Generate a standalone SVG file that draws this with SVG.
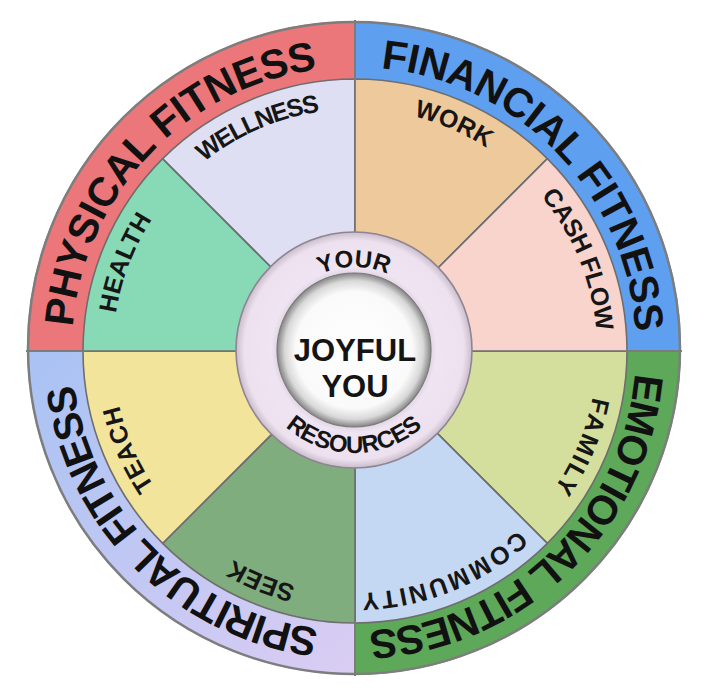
<svg xmlns="http://www.w3.org/2000/svg" xmlns:xlink="http://www.w3.org/1999/xlink" width="724" height="690" viewBox="0 0 724 690">
<defs>
<style>
.outer{font-family:"Liberation Sans","DejaVu Sans",sans-serif;font-weight:700;font-size:41px;fill:#111;}
.inner{font-family:"Liberation Sans","DejaVu Sans",sans-serif;font-weight:700;font-size:25px;fill:#161616;}
.hub{font-family:"Liberation Sans","DejaVu Sans",sans-serif;font-weight:700;fill:#141414;}
.wedge{stroke:#6e6e6e;stroke-width:1.6;stroke-linejoin:round;}
.div{stroke:#7c7c7c;stroke-width:2;}
</style>
<clipPath id="outerClip"><circle cx="354" cy="348" r="327"/></clipPath>
<linearGradient id="spirit" x1="0" y1="0" x2="1" y2="1">
<stop offset="0" stop-color="#a6c2f3"/>
<stop offset="1" stop-color="#dccdf3"/>
</linearGradient>
<radialGradient id="hubRing" cx="0.5" cy="0.5" r="0.5">
<stop offset="0.62" stop-color="#d9ccdb"/>
<stop offset="0.7" stop-color="#efe4f1"/>
<stop offset="0.93" stop-color="#ede1ef"/>
<stop offset="1" stop-color="#c9bccb"/>
</radialGradient>
<radialGradient id="hubCore" cx="0.5" cy="0.5" r="0.5">
<stop offset="0" stop-color="#ffffff"/>
<stop offset="0.76" stop-color="#fafafa"/>
<stop offset="0.9" stop-color="#d8d8d8"/>
<stop offset="1" stop-color="#858585"/>
</radialGradient>
<path id="outerArc" d="M 636 349 A 282 282 0 1 1 72 349 A 282 282 0 1 1 636 349"/>
<path id="innerArc" d="M 597 351 A 242 242 0 1 1 113 351 A 242 242 0 1 1 597 351"/>
<path id="yourArc" d="M 437 350 A 83 83 0 1 1 271 350 A 83 83 0 1 1 437 350"/>
<path id="resArc" d="M 251 350 A 103 103 0 0 0 457 350"/>
</defs>
<rect width="724" height="690" fill="#ffffff"/>

<g id="outer-ring">
<g clip-path="url(#outerClip)">
<g id="physical-fitness"><rect x="0" y="0" width="355" height="351" fill="#ec777a"/></g>
<g id="financial-fitness"><rect x="355" y="0" width="369" height="351" fill="#5f9ff0"/></g>
<g id="emotional-fitness"><rect x="355" y="351" width="369" height="339" fill="#5ea85a"/></g>
<g id="spiritual-fitness"><rect x="0" y="351" width="355" height="339" fill="url(#spirit)"/></g>
</g>
<circle cx="354" cy="348" r="326" fill="none" stroke="#7d7d7d" stroke-width="2.5"/>
</g>

<g id="wedges">
<g id="family"><path class="wedge" fill="#d4df9e" d="M355,351 L627,351 A272,272 0 0 1 547.33,543.33 Z"/></g>
<g id="community"><path class="wedge" fill="#c4d8f3" d="M355,351 L547.33,543.33 A272,272 0 0 1 355,623 Z"/></g>
<g id="seek"><path class="wedge" fill="#80ad7d" d="M355,351 L355,623 A272,272 0 0 1 162.67,543.33 Z"/></g>
<g id="teach"><path class="wedge" fill="#f3e49b" d="M355,351 L162.67,543.33 A272,272 0 0 1 83,351 Z"/></g>
<g id="health"><path class="wedge" fill="#88d9b6" d="M355,351 L83,351 A272,272 0 0 1 162.67,158.67 Z"/></g>
<g id="wellness"><path class="wedge" fill="#dfdff3" d="M355,351 L162.67,158.67 A272,272 0 0 1 355,79 Z"/></g>
<g id="work"><path class="wedge" fill="#eec99b" d="M355,351 L355,79 A272,272 0 0 1 547.33,158.67 Z"/></g>
<g id="cash-flow"><path class="wedge" fill="#f8d4cd" d="M355,351 L547.33,158.67 A272,272 0 0 1 627,351 Z"/></g>
</g>

<g id="connectors">
<line class="div" x1="355" y1="20" x2="355" y2="80"/>
<line class="div" x1="355" y1="622" x2="355" y2="676"/>
<line class="div" x1="26" y1="351" x2="84" y2="351"/>
<line class="div" x1="626" y1="351" x2="682" y2="351"/>
</g>

<g id="outer-labels">
<text class="outer"><textPath href="#outerArc" xlink:href="#outerArc" startOffset="62.08%" text-anchor="middle" textLength="384" lengthAdjust="spacing">PHYSICAL FITNESS</textPath></text>
<text class="outer"><textPath href="#outerArc" xlink:href="#outerArc" startOffset="87.78%" text-anchor="middle" textLength="399" lengthAdjust="spacing">FINANCIAL FITNESS</textPath></text>
<text class="outer"><textPath href="#outerArc" xlink:href="#outerArc" startOffset="12.78%" text-anchor="middle" textLength="404" lengthAdjust="spacing">EMOTIONAL FITNESS</textPath></text>
<text class="outer"><textPath href="#outerArc" xlink:href="#outerArc" startOffset="37.5%" text-anchor="middle" textLength="372" lengthAdjust="spacing">SPIRITUAL FITNESS</textPath></text>
</g>

<g id="wedge-labels">
<text class="inner"><textPath href="#innerArc" xlink:href="#innerArc" startOffset="68.47%" text-anchor="middle" textLength="128" lengthAdjust="spacing">WELLNESS</textPath></text>
<text class="inner"><textPath href="#innerArc" xlink:href="#innerArc" startOffset="81.53%" text-anchor="middle" textLength="80" lengthAdjust="spacing">WORK</textPath></text>
<text class="inner"><textPath href="#innerArc" xlink:href="#innerArc" startOffset="93.81%" text-anchor="middle" textLength="148" lengthAdjust="spacing">CASH FLOW</textPath></text>
<text class="inner"><textPath href="#innerArc" xlink:href="#innerArc" startOffset="6.33%" text-anchor="middle" textLength="100" lengthAdjust="spacing">FAMILY</textPath></text>
<text class="inner"><textPath href="#innerArc" xlink:href="#innerArc" startOffset="18.89%" text-anchor="middle" textLength="172" lengthAdjust="spacing">COMMUNITY</textPath></text>
<text class="inner"><textPath href="#innerArc" xlink:href="#innerArc" startOffset="31.19%" text-anchor="middle" textLength="68" lengthAdjust="spacing">SEEK</textPath></text>
<text class="inner"><textPath href="#innerArc" xlink:href="#innerArc" startOffset="43.47%" text-anchor="middle" textLength="89" lengthAdjust="spacing">TEACH</textPath></text>
<text class="inner"><textPath href="#innerArc" xlink:href="#innerArc" startOffset="55.83%" text-anchor="middle" textLength="102" lengthAdjust="spacing">HEALTH</textPath></text>
</g>

<g id="hub">
<circle cx="354" cy="350" r="118" fill="url(#hubRing)" stroke="#8f8491" stroke-width="1.6"/>
<circle cx="354" cy="350" r="77" fill="url(#hubCore)" stroke="#7a7a7a" stroke-width="1.2"/>
<text class="hub" font-size="24"><textPath href="#yourArc" xlink:href="#yourArc" startOffset="75%" text-anchor="middle">YOUR</textPath></text>
<text class="hub" font-size="24"><textPath href="#resArc" xlink:href="#resArc" startOffset="50%" text-anchor="middle" textLength="150" lengthAdjust="spacing">RESOURCES</textPath></text>
<text class="hub" font-size="31" x="355" y="361" text-anchor="middle">JOYFUL</text>
<text class="hub" font-size="31" x="355" y="397" text-anchor="middle">YOU</text>
</g>
</svg>
